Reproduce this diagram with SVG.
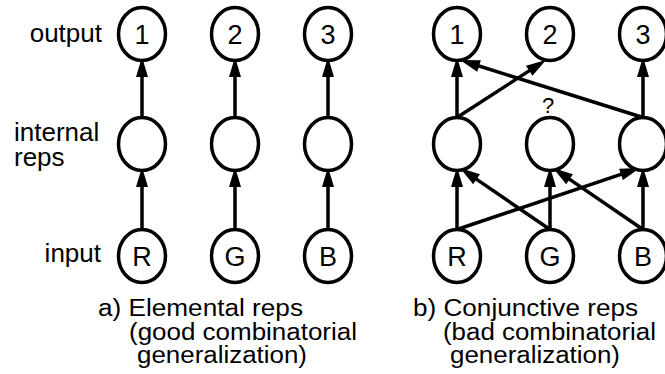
<svg xmlns="http://www.w3.org/2000/svg" width="665" height="374" viewBox="0 0 665 374">
<style>
.n{fill:#fff;stroke:#000;stroke-width:3.5}
.nl{font-family:"Liberation Sans",Arial,sans-serif;font-size:27px;text-anchor:middle;fill:#000}
.lb{font-family:"Liberation Sans",Arial,sans-serif;font-size:26px;fill:#000}
.cap{font-family:"Liberation Sans",Arial,sans-serif;font-size:23px;fill:#000}
.c{stroke:#000;stroke-width:3.5;fill:none;marker-end:url(#ah)}
</style>
<defs>
<marker id="ah" markerUnits="userSpaceOnUse" markerWidth="22" markerHeight="14" refX="10" refY="7" orient="auto" overflow="visible">
<path d="M0,1 L20,7 L0,13 z" fill="#000"/>
</marker>
</defs>
<rect width="665" height="374" fill="#fff"/>
<g id="connectors">
<line class="c" x1="142" y1="117.5" x2="142" y2="67"/>
<line class="c" x1="235" y1="117.5" x2="235" y2="67"/>
<line class="c" x1="328" y1="117.5" x2="328" y2="67"/>
<line class="c" x1="142" y1="229.5" x2="142" y2="177"/>
<line class="c" x1="235" y1="229.5" x2="235" y2="177"/>
<line class="c" x1="328" y1="229.5" x2="328" y2="177"/>
<line class="c" x1="457" y1="117.5" x2="457" y2="67"/>
<line class="c" x1="643" y1="117.5" x2="643" y2="67"/>
<line class="c" x1="457" y1="117.5" x2="537.6" y2="65.4"/>
<line class="c" x1="643" y1="117.5" x2="469.5" y2="63"/>
<line class="c" x1="457" y1="229.5" x2="457" y2="177"/>
<line class="c" x1="550" y1="229.5" x2="550" y2="177"/>
<line class="c" x1="643" y1="229.5" x2="643" y2="177"/>
<line class="c" x1="550" y1="229.5" x2="468.3" y2="173.6"/>
<line class="c" x1="643" y1="229.5" x2="561.3" y2="173.6"/>
<line class="c" x1="457" y1="229.5" x2="630.5" y2="171.2"/>
</g>
<g id="a-out1"><ellipse class="n" cx="142" cy="34" rx="23.5" ry="26.5"/><text class="nl" x="142" y="44">1</text></g>
<g id="a-out2"><ellipse class="n" cx="235" cy="34" rx="23.5" ry="26.5"/><text class="nl" x="235" y="44">2</text></g>
<g id="a-out3"><ellipse class="n" cx="328" cy="34" rx="23.5" ry="26.5"/><text class="nl" x="328" y="44">3</text></g>
<g id="a-int1"><ellipse class="n" cx="142" cy="144" rx="23.5" ry="26.5"/></g>
<g id="a-int2"><ellipse class="n" cx="235" cy="144" rx="23.5" ry="26.5"/></g>
<g id="a-int3"><ellipse class="n" cx="328" cy="144" rx="23.5" ry="26.5"/></g>
<g id="a-inR"><ellipse class="n" cx="142" cy="256" rx="23.5" ry="26.5"/><text class="nl" x="142" y="265.5">R</text></g>
<g id="a-inG"><ellipse class="n" cx="235" cy="256" rx="23.5" ry="26.5"/><text class="nl" x="235" y="265.5">G</text></g>
<g id="a-inB"><ellipse class="n" cx="328" cy="256" rx="23.5" ry="26.5"/><text class="nl" x="328" y="265.5">B</text></g>
<g id="b-out1"><ellipse class="n" cx="457" cy="34" rx="23.5" ry="26.5"/><text class="nl" x="457" y="44">1</text></g>
<g id="b-out2"><ellipse class="n" cx="550" cy="34" rx="23.5" ry="26.5"/><text class="nl" x="550" y="44">2</text></g>
<g id="b-out3"><ellipse class="n" cx="643" cy="34" rx="23.5" ry="26.5"/><text class="nl" x="643" y="44">3</text></g>
<g id="b-int1"><ellipse class="n" cx="457" cy="144" rx="23.5" ry="26.5"/></g>
<g id="b-int2"><ellipse class="n" cx="550" cy="144" rx="23.5" ry="26.5"/><text x="548" y="113" font-family="Liberation Sans, Arial, sans-serif" font-size="22" text-anchor="middle">?</text></g>
<g id="b-int3"><ellipse class="n" cx="643" cy="144" rx="23.5" ry="26.5"/></g>
<g id="b-inR"><ellipse class="n" cx="457" cy="256" rx="23.5" ry="26.5"/><text class="nl" x="457" y="265.5">R</text></g>
<g id="b-inG"><ellipse class="n" cx="550" cy="256" rx="23.5" ry="26.5"/><text class="nl" x="550" y="265.5">G</text></g>
<g id="b-inB"><ellipse class="n" cx="643" cy="256" rx="23.5" ry="26.5"/><text class="nl" x="643" y="265.5">B</text></g>
<g id="labels">
<text class="lb" x="102" y="42" text-anchor="end">output</text>
<text class="lb" x="14" y="141">internal</text>
<text class="lb" x="14" y="166">reps</text>
<text class="lb" x="101" y="262" text-anchor="end">input</text>
</g>
<g id="captions">
<text class="cap" x="98" y="316" textLength="205" lengthAdjust="spacingAndGlyphs">a) Elemental reps</text>
<text class="cap" x="129" y="340" textLength="228" lengthAdjust="spacingAndGlyphs">(good combinatorial</text>
<text class="cap" x="137" y="363" textLength="170" lengthAdjust="spacingAndGlyphs">generalization)</text>
<text class="cap" x="413" y="316" textLength="225" lengthAdjust="spacingAndGlyphs">b) Conjunctive reps</text>
<text class="cap" x="443" y="340" textLength="213" lengthAdjust="spacingAndGlyphs">(bad combinatorial</text>
<text class="cap" x="450" y="363" textLength="170" lengthAdjust="spacingAndGlyphs">generalization)</text>
</g>
</svg>
